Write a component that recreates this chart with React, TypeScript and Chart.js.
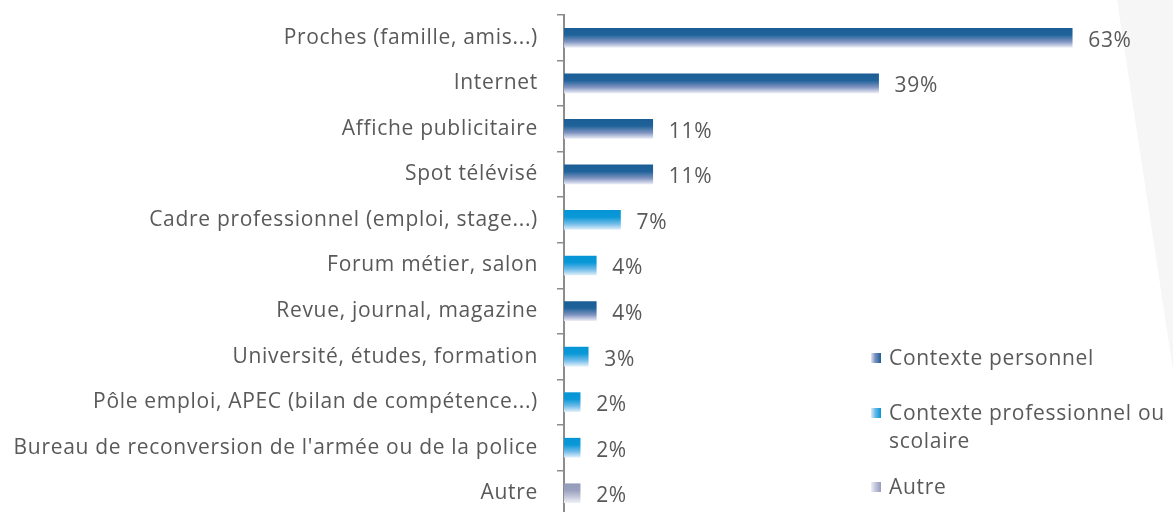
import React, { useEffect, useRef } from "react";
import { Chart, registerables } from "chart.js";

Chart.register(...registerables);

const categories = [
  "Proches (famille, amis...)",
  "Internet",
  "Affiche publicitaire",
  "Spot télévisé",
  "Cadre professionnel (emploi, stage...)",
  "Forum métier, salon",
  "Revue, journal, magazine",
  "Université, études, formation",
  "Pôle emploi, APEC (bilan de compétence...)",
  "Bureau de reconversion de l'armée ou de la police",
  "Autre",
];

const values = [63, 39, 11, 11, 7, 4, 4, 3, 2, 2, 2];

// context type per category: 0 = personnel, 1 = professionnel/scolaire, 2 = autre
const contextTypes = [0, 0, 0, 0, 1, 1, 0, 1, 1, 1, 2];

const legendLabels = [
  ["Contexte personnel"],
  ["Contexte professionnel ou", "scolaire"],
  ["Autre"],
];

const gradientStops: string[][] = [
  ["#1a5e95", "#20639a", "#7f93c0", "#e6e8f4"],
  ["#0595d5", "#0a98d7", "#6fbbe8", "#dcedf9"],
  ["#959cbb", "#9ba2bf", "#c5c9dc", "#eef0f6"],
];

const FONT = "'Open Sans', sans-serif";
const TEXT = "#595959";
const SPACING = "0.7px";
const FONT_SIZE = 21;

export default function App() {
  const ref = useRef<HTMLCanvasElement | null>(null);

  useEffect(() => {
    document.body.style.margin = "0";
    const canvas = ref.current;
    if (!canvas) return;

    const bgShape = {
      id: "bgShape",
      beforeDraw(chart: any) {
        const ctx = chart.ctx;
        try {
          ctx.letterSpacing = SPACING;
        } catch (e) {}
        ctx.save();
        ctx.fillStyle = "#f6f6f6";
        ctx.beginPath();
        ctx.moveTo(1117, 0);
        ctx.lineTo(1173, 0);
        ctx.lineTo(1173, 370);
        ctx.closePath();
        ctx.fill();
        ctx.restore();
      },
    };

    const valueLabels = {
      id: "valueLabels",
      afterDatasetsDraw(chart: any) {
        const ctx = chart.ctx;
        const meta = chart.getDatasetMeta(0);
        ctx.save();
        ctx.font = `${FONT_SIZE}px ${FONT}`;
        ctx.fillStyle = TEXT;
        ctx.textBaseline = "middle";
        ctx.textAlign = "left";
        meta.data.forEach((bar: any, i: number) => {
          ctx.fillText(values[i] + "%", bar.x + 16, bar.y + 3);
        });
        ctx.restore();
      },
    };

    const chart = new Chart(canvas, {
      type: "bar",
      data: {
        labels: categories,
        datasets: [
          {
            data: values,
            barThickness: 19,
            borderWidth: 0,
            backgroundColor: (c: any) => {
              const ch = c.chart;
              const t = contextTypes[c.dataIndex] ?? 0;
              const stops = gradientStops[t];
              if (!ch.chartArea || !ch.scales.y) return stops[0];
              const y = ch.scales.y.getPixelForValue(c.dataIndex);
              const g = ch.ctx.createLinearGradient(0, y - 9.5, 0, y + 9.5);
              g.addColorStop(0, stops[0]);
              g.addColorStop(0.35, stops[1]);
              g.addColorStop(0.7, stops[2]);
              g.addColorStop(1, stops[3]);
              return g;
            },
          },
        ],
      },
      options: {
        indexAxis: "y",
        responsive: false,
        animation: false,
        layout: { padding: { top: 15, right: 4, bottom: 0, left: 0 } },
        plugins: {
          legend: { display: false },
          tooltip: { enabled: false },
        },
        scales: {
          x: {
            display: false,
            min: 0,
            max: 75,
          },
          y: {
            afterFit: (s: any) => {
              s.width = 564;
              s.paddingTop = 0;
              s.paddingBottom = 0;
            },
            grid: {
              drawOnChartArea: false,
              drawTicks: true,
              tickLength: 7,
              color: "#8c8c8c",
              lineWidth: 1.5,
              offset: true,
            },
            border: { display: true, color: "#8c8c8c", width: 2 },
            ticks: {
              padding: 19,
              color: TEXT,
              font: { family: FONT, size: FONT_SIZE },
              autoSkip: false,
            },
          },
        },
      },
      plugins: [bgShape, valueLabels],
    } as any);

    return () => chart.destroy();
  }, []);

  const legendTops = [343, 398, 472];

  return (
    <div
      style={{
        position: "relative",
        width: 1173,
        height: 512,
        overflow: "hidden",
        background: "#ffffff",
      }}
    >
      <canvas
        ref={ref}
        width={1173}
        height={516}
        style={{ position: "absolute", left: 0, top: 0, width: 1173, height: 516 }}
      />
      {legendLabels.map((lines, i) => (
        <div
          key={i}
          style={{
            position: "absolute",
            left: 871,
            top: legendTops[i],
            fontFamily: FONT,
            fontSize: FONT_SIZE,
            letterSpacing: SPACING,
            lineHeight: "28px",
            color: TEXT,
            display: "flex",
            alignItems: "flex-start",
            whiteSpace: "nowrap",
          }}
        >
          <span
            style={{
              display: "inline-block",
              width: 10,
              height: 10,
              marginTop: 10,
              marginRight: 8,
              background: `linear-gradient(to right, ${gradientStops[i][3]}, ${gradientStops[i][2]} 40%, ${gradientStops[i][0]})`,
            }}
          />
          <span>
            {lines.map((l, j) => (
              <div key={j}>{l}</div>
            ))}
          </span>
        </div>
      ))}
    </div>
  );
}
